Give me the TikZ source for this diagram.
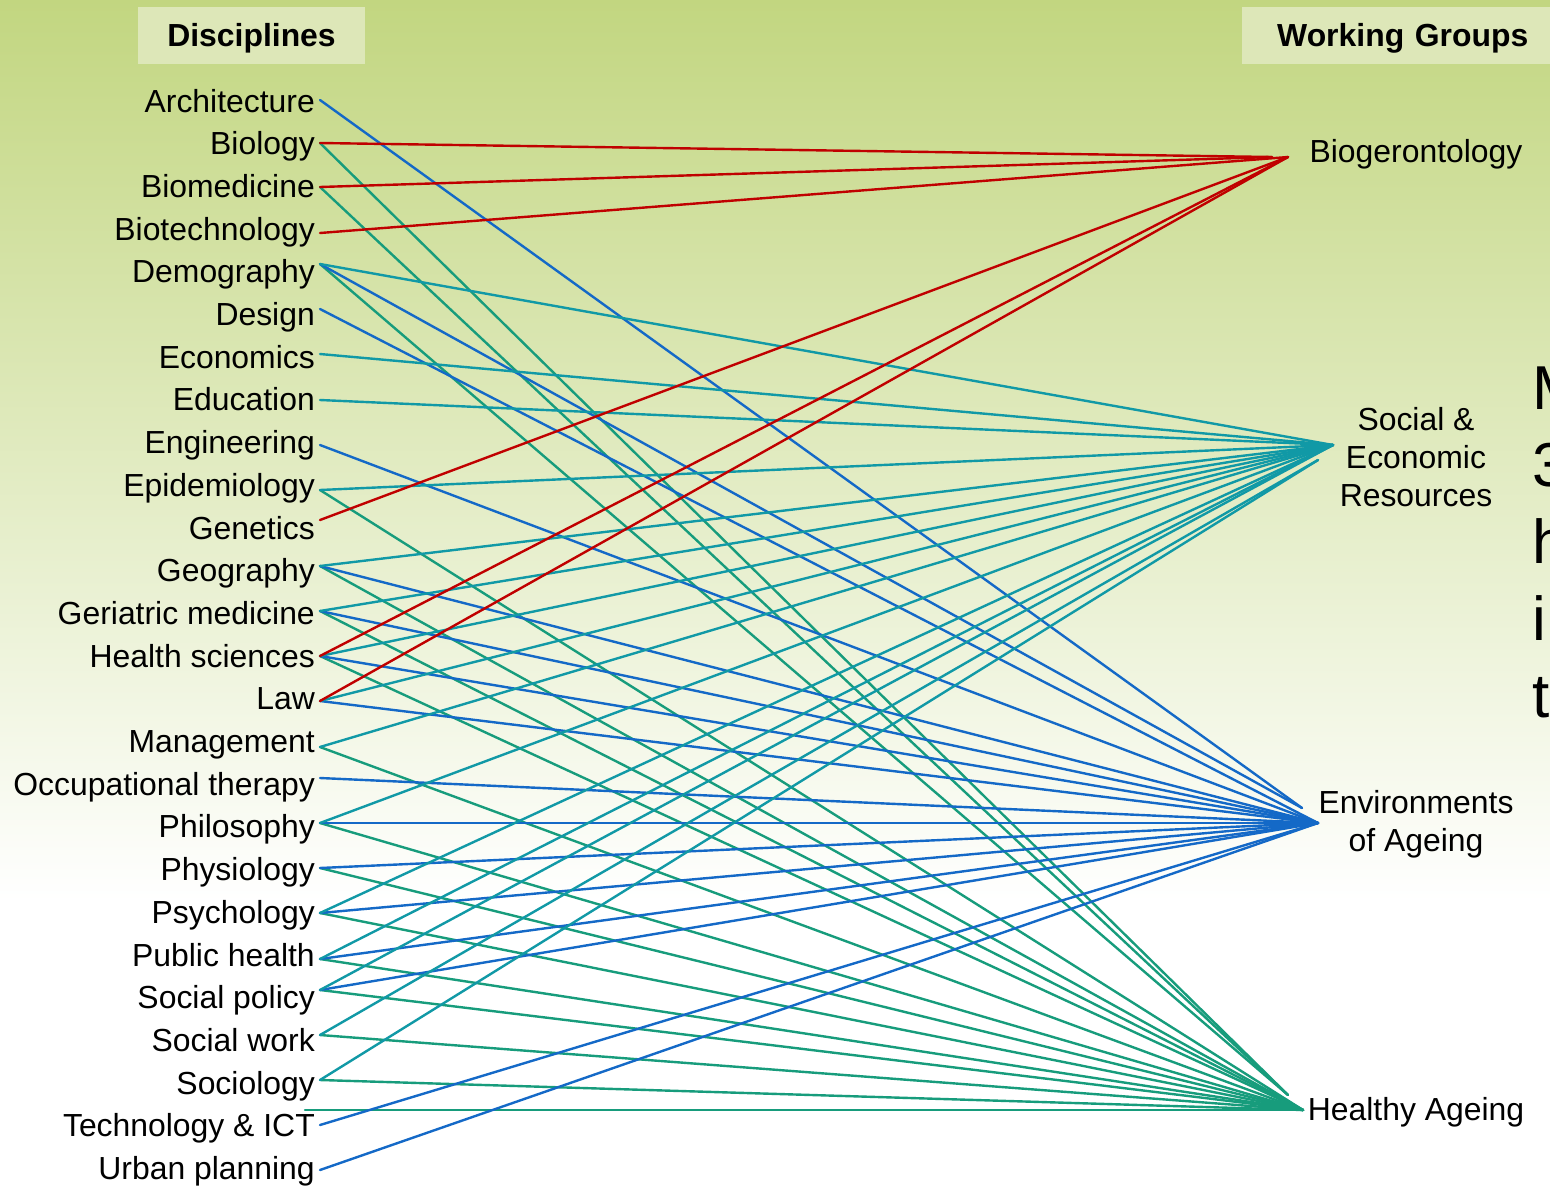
\documentclass[tikz,border=0pt]{standalone}
\usepackage{fontspec}
\setmainfont{Liberation Sans}
\definecolor{bgtop}{HTML}{C2D680}
\definecolor{hdr}{HTML}{DDE7B8}
\definecolor{cred}{HTML}{C00000}
\definecolor{cteal}{HTML}{1199A6}
\definecolor{cblue}{HTML}{1469C7}
\definecolor{cgreen}{HTML}{179C7C}
\begin{document}
\begin{tikzpicture}[x=1pt,y=-1pt,
  lbl/.style={inner sep=0pt, font=\fontsize{31.9}{38}\selectfont},
  disc/.style={lbl, anchor=base east},
  grp/.style={lbl, align=center},
  hdrbox/.style={fill=hdr, inner sep=0pt, text height=22.5pt, text depth=0pt,
    minimum height=57pt, font=\fontsize{31.9}{38}\selectfont\bfseries},
  link/.style={line width=2.4pt, line cap=round},
  lred/.style={link, cred},
  lteal/.style={link, cteal},
  lblue/.style={link, cblue},
  lgreen/.style={link, cgreen}]
\useasboundingbox (0,0) rectangle (1550,1192);
% background
\shade[top color=bgtop, bottom color=white] (0,0) rectangle (1550,901);
\fill[white] (0,900) rectangle (1550,1192);
% headers
\node[hdrbox, minimum width=227pt] (dh) at (251.5,35.5) {Disciplines};
\node[hdrbox, anchor=west, text width=283pt, inner xsep=35pt, align=left] (wh) at (1242,35.5) {Working Groups};
% disciplines
\foreach \n/\t/\ly [count=\i from 0] in {
  arch/Architecture/100, biol/Biology/143, biom/Biomedicine/187,
  biot/Biotechnology/233, demo/Demography/264, desi/Design/309,
  econ/Economics/354, educ/Education/400, engi/Engineering/445,
  epid/Epidemiology/490, gene/Genetics/520, geog/Geography/566,
  geri/Geriatric medicine/611, heal/Health sciences/656, law/Law/701,
  mana/Management/747, occu/Occupational therapy/778, phil/Philosophy/823,
  phys/Physiology/868, psyc/Psychology/913, publ/Public health/959,
  socp/Social policy/990, socw/Social work/1035, soci/Sociology/1080,
  tech/Technology \& ICT/1125, urba/Urban planning/1170} {
  \node[disc] (\n) at (315,112+42.7*\i) {\t};
  \coordinate (\n-p) at (320,\ly);
}
\coordinate (tech-q) at (305,1110);
% working groups
\node[grp, anchor=base] (biog) at (1416,162) {Biogerontology};
\node[grp] (ser) at (1416,457) {Social \&\\Economic\\Resources};
\node[grp] (env) at (1416,824) {Environments\\of Ageing};
\node[grp, anchor=base] (hea) at (1416,1120) {Healthy Ageing};
\coordinate (bioA) at (1288,157);
\coordinate (bioB) at (1272,157);
\coordinate (seA) at (1333,445);
\coordinate (seB) at (1318,460);
\coordinate (envA) at (1318,823);
\coordinate (envB) at (1302,808);
\coordinate (haA) at (1303,1110);
\coordinate (haB) at (1288,1095);
% cut-off text at right edge (as in the reference)
\node[inner sep=0pt, anchor=west, align=left, font=\fontsize{62}{77}\selectfont] (side) at (1532,542) {M\\3\\h\\i\\t};
% connectors
\foreach \s/\h in {biol/haB, biom/haB, demo/haB, epid/haA, geog/haA, geri/haA,
  heal/haA, mana/haA, phil/haA, phys/haA, psyc/haA, publ/haA, socp/haA,
  socw/haA, soci/haA}
  \draw[lgreen] (\s-p) -- (\h);
\draw[lgreen] (tech-q) -- (haA);
\foreach \s/\h in {arch/envB, demo/envB, desi/envA, engi/envA, geog/envA,
  geri/envA, heal/envA, law/envA, occu/envA, phil/envA, phys/envA, psyc/envA,
  publ/envA, socp/envA, tech/envA, urba/envA}
  \draw[lblue] (\s-p) -- (\h);
\foreach \s/\h in {demo/seA, econ/seA, educ/seA, epid/seA, geog/seA, geri/seA,
  heal/seA, law/seA, mana/seA, phil/seA, psyc/seA, publ/seA, socp/seA,
  socw/seB, soci/seB}
  \draw[lteal] (\s-p) -- (\h);
\foreach \s/\h in {biol/bioB, biom/bioB, biot/bioA, gene/bioA, heal/bioA, law/bioA}
  \draw[lred] (\s-p) -- (\h);
\end{tikzpicture}
\end{document}
